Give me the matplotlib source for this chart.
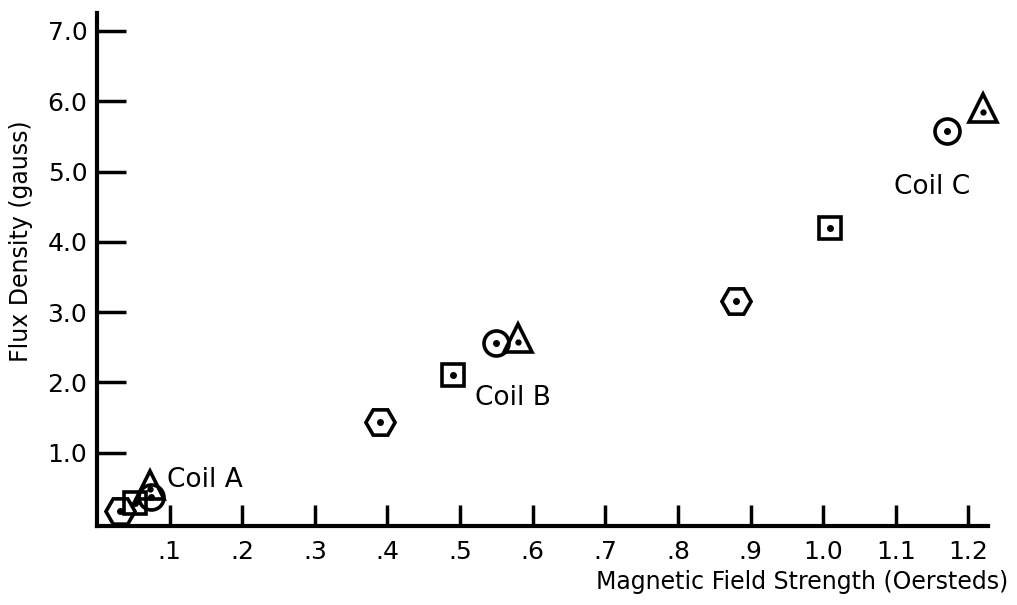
import matplotlib
matplotlib.use("Agg")
import matplotlib.pyplot as plt

# Data (Magnetic Field Strength in Oersteds, Flux Density in gauss)
hex_x = [0.032, 0.39, 0.88]
hex_y = [0.17, 1.44, 3.16]
sq_x = [0.052, 0.49, 1.01]
sq_y = [0.28, 2.10, 4.20]
circ_x = [0.075, 0.55, 1.17]
circ_y = [0.37, 2.56, 5.58]
tri_x = [0.073, 0.58, 1.22]
tri_y = [0.54, 2.63, 5.90]

coil_labels = ["Coil A", "Coil B", "Coil C"]
coil_label_x = [0.096, 0.52, 1.097]
coil_label_y = [0.61, 1.78, 4.78]

xticks = [0.1, 0.2, 0.3, 0.4, 0.5, 0.6, 0.7, 0.8, 0.9, 1.0, 1.1, 1.2]
xticklabels = [".1", ".2", ".3", ".4", ".5", ".6", ".7", ".8", ".9", "1.0", "1.1", "1.2"]
yticks = [1.0, 2.0, 3.0, 4.0, 5.0, 6.0, 7.0]
yticklabels = ["1.0", "2.0", "3.0", "4.0", "5.0", "6.0", "7.0"]

plt.rcParams['font.family'] = ['DejaVu Sans']

fig = plt.figure(figsize=(10.17, 6.05), dpi=100)
ax = fig.add_axes([97/1017, 1-526/605, (988-97)/1017, (526-13)/605])

mk = dict(linestyle='none', markerfacecolor='none', markeredgecolor='black',
          markeredgewidth=2.6, clip_on=False)
ax.plot(hex_x, hex_y, marker='H', markersize=21, **mk)
ax.plot(sq_x, sq_y, marker='s', markersize=16, **mk)
ax.plot(circ_x, circ_y, marker='o', markersize=18, **mk)
ax.plot(tri_x, tri_y, marker='^', markersize=20, **mk)
for xs, ys in [(hex_x, hex_y), (sq_x, sq_y), (circ_x, circ_y)]:
    ax.plot(xs, ys, linestyle='none', marker='o', markersize=4, color='black', clip_on=False)
# triangle dots sit slightly low in the triangle
ax.plot(tri_x, [v - 0.05 for v in tri_y], linestyle='none', marker='o', markersize=3.5,
        color='black', clip_on=False)

for t, x, y in zip(coil_labels, coil_label_x, coil_label_y):
    ax.text(x, y, t, fontsize=19, ha='left', va='center', color='black')

ax.set_xlim(0, 1.227)
ax.set_ylim(-0.043, 7.255)
ax.set_xticks(xticks)
ax.set_xticklabels(xticklabels, fontsize=18)
ax.set_yticks(yticks)
ax.set_yticklabels(yticklabels, fontsize=18)

for s in ['top', 'right']:
    ax.spines[s].set_visible(False)
for s in ['left', 'bottom']:
    ax.spines[s].set_linewidth(3)

ax.tick_params(axis='x', direction='in', length=15, width=2.5, pad=10)
ax.tick_params(axis='y', direction='in', length=21, width=2.5, pad=7)

ax.set_xlabel("Magnetic Field Strength (Oersteds)", fontsize=17)
ax.xaxis.set_label_coords(1.023, -0.085)
ax.xaxis.label.set_horizontalalignment('right')
ax.set_ylabel("Flux Density (gauss)", fontsize=17)
ax.yaxis.set_label_coords(-0.072, 0.556)

fig.savefig("out.png", dpi=100)
